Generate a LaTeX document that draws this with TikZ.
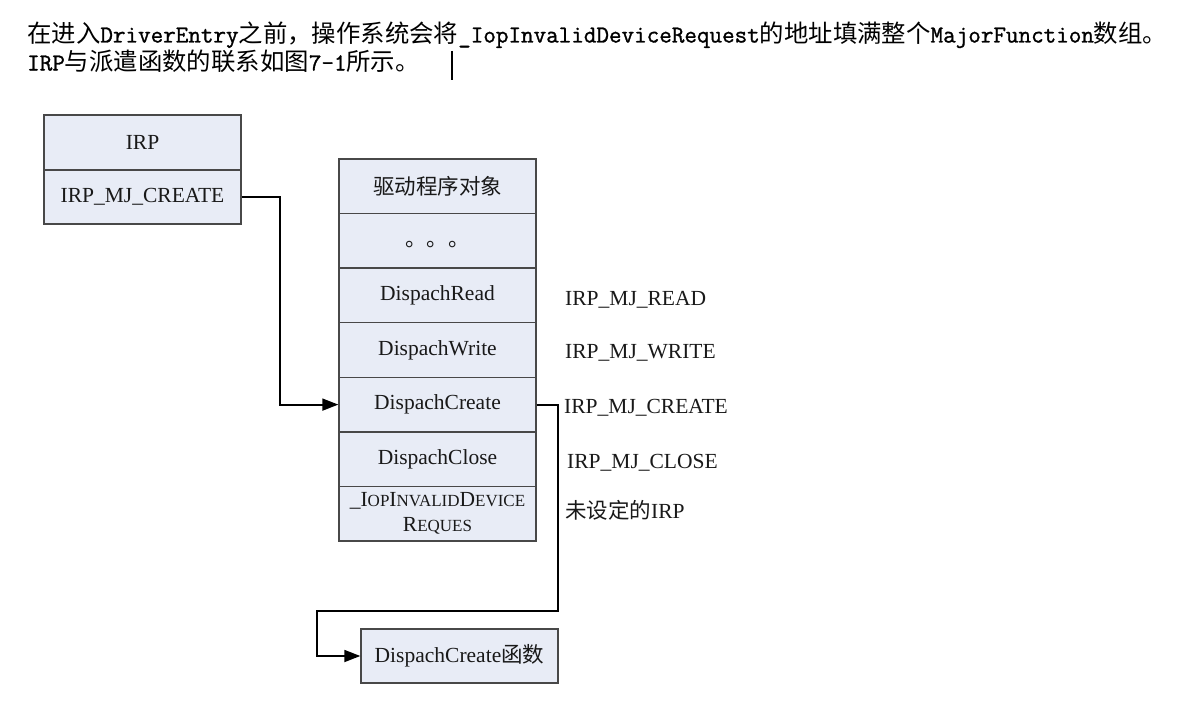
\documentclass[tikz,border=0pt]{standalone}
\usepackage{fontspec}
\setmainfont{Liberation Serif}
\newfontfamily\cjk{Noto Sans CJK SC}
\newfontfamily\mono[FakeBold=1.2]{Latin Modern Mono}
\usetikzlibrary{arrows.meta}
\definecolor{cellfill}{RGB}{232,236,246}
\definecolor{cellline}{RGB}{72,72,72}
\newcommand{\smc}{\fontsize{17}{20}\selectfont}
\begin{document}
\begin{tikzpicture}[x=1pt,y=-1pt,
  cell/.style={draw=cellline, line width=1.4pt, fill=cellfill, minimum width=197pt,
    minimum height=54.6pt, inner sep=0pt, font=\fontsize{21.5}{25}\selectfont, text=black!90},
  lbl/.style={anchor=west, inner sep=0pt, font=\fontsize{21.5}{25}\selectfont, text=black!90},
  conn/.style={line width=1.8pt, black},
  arr/.style={conn, -{Triangle[length=16pt,width=12pt]}},
  toptext/.style={anchor=base west, inner sep=0pt, font=\fontsize{24.4}{29}\selectfont}]
\useasboundingbox (0,0) rectangle (1195,701);
\fill[white] (0,0) rectangle (1195,701);

% top paragraph
\node[toptext] (t1) at (27,42.5) {{\cjk 在进入}{\mono DriverEntry}{\cjk 之前，操作系统会将}{\mono \_IopInvalidDeviceRequest}{\cjk 的地址填满整个}{\mono MajorFunction}{\cjk 数组。}};
\node[toptext] (t2) at (27,70.5) {{\mono IRP}{\cjk 与派遣函数的联系如图}{\mono 7-1}{\cjk 所示。}};
\coordinate (cur1) at (452,51);
\coordinate (cur2) at (452,80);
\draw[line width=1.3pt] (cur1) -- (cur2);

% IRP box
\node[cell, minimum height=55pt] (irp) at (142.5,142.5) {IRP};
\node[cell, minimum height=54pt] (irpc) at (142.5,197) {IRP\_MJ\_CREATE};

% driver object stack
\node[cell] (s1) at (437.5,186.3) {\cjk 驱动程序对象};
\node[cell] (s2) at (437.5,240.9) {};
\node[lbl, anchor=center, inner sep=0pt] (dots) at ([yshift=-4pt]s2.center) {\cjk 。。。};
\node[cell] (s3) at (437.5,295.4) {DispachRead};
\node[cell] (s4) at (437.5,350.0) {DispachWrite};
\node[cell] (s5) at (437.5,404.6) {DispachCreate};
\node[cell] (s6) at (437.5,459.1) {DispachClose};
\node[cell, align=center] (s7) at (437.5,513.7) {\_I{\smc OP}I{\smc NVALID}D{\smc EVICE}\\R{\smc EQUES}};

% labels
\node[lbl] (lr) at (565,300) {IRP\_MJ\_READ};
\node[lbl] (lw) at (565,353) {IRP\_MJ\_WRITE};
\node[lbl] (lc) at (564,408) {IRP\_MJ\_CREATE};
\node[lbl] (lx) at (567,463) {IRP\_MJ\_CLOSE};
\node[lbl] (lu) at (565,510) {{\cjk 未设定的}IRP};

% dispatch function box
\node[cell, minimum height=54pt] (fn) at (459.5,656) {DispachCreate{\cjk 函数}};

% connectors
\coordinate (c1) at (317,611);
\draw[arr] (irpc.east) -- ++(38,0) |- (s5.west);
\draw[arr] (s5.east) -- ++(21,0) |- (c1) |- (fn.west);
\end{tikzpicture}
\end{document}
